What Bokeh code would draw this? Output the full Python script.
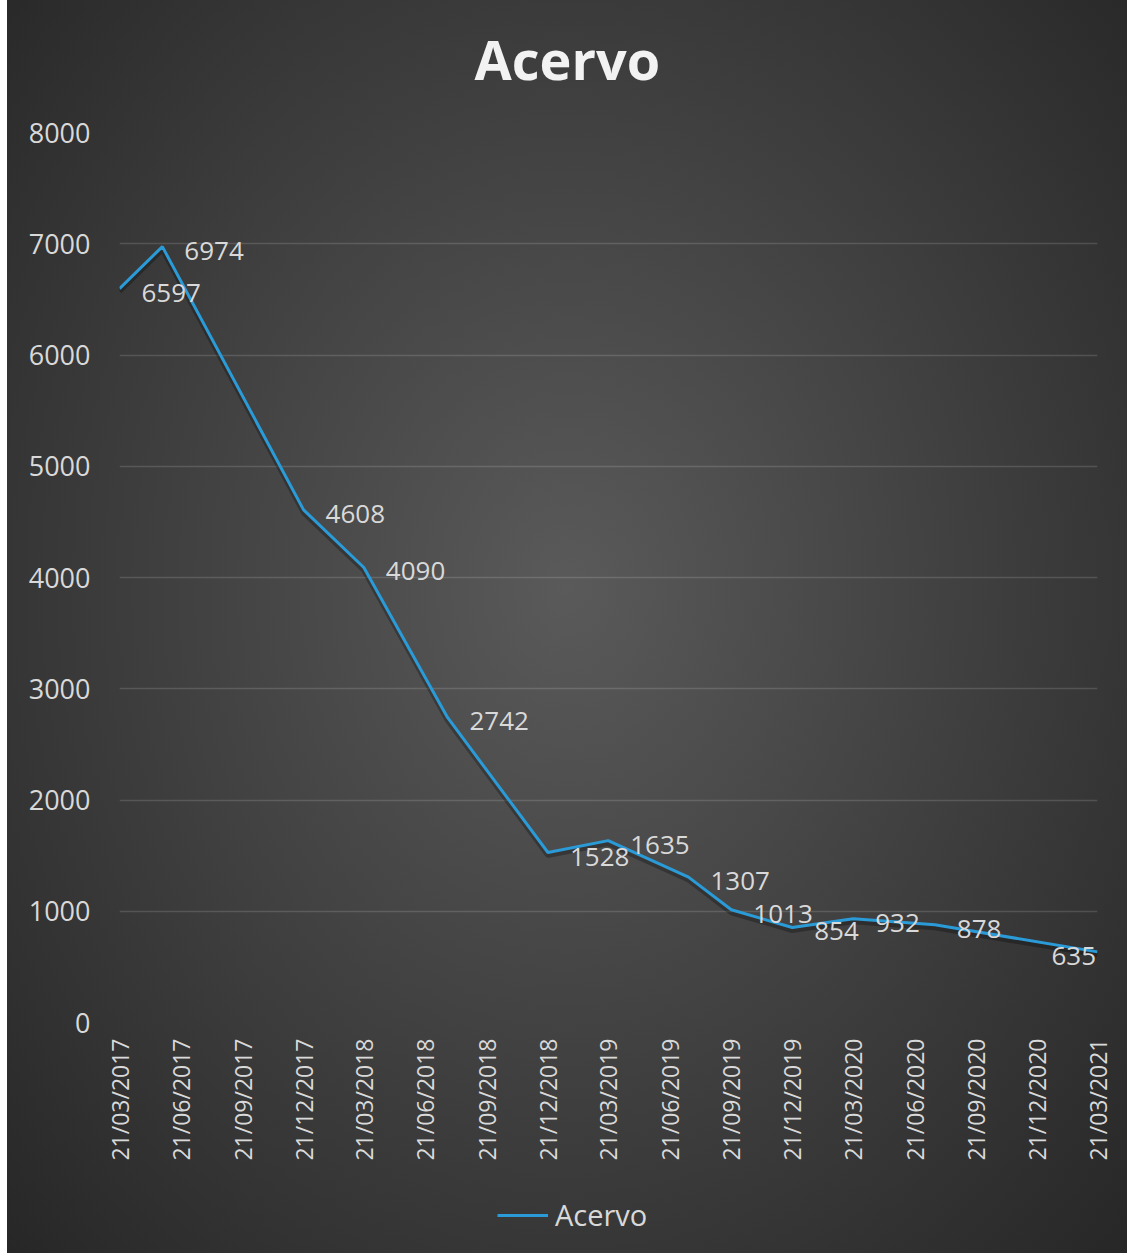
import math
import pandas as pd
from bokeh.plotting import figure
from bokeh.layouts import column
from bokeh.models import (ColumnDataSource, LabelSet, FixedTicker, DatetimeTickFormatter,
                          Legend, LegendItem, Range1d)
from bokeh.core.properties import value
from bokeh.embed import file_html
from bokeh.resources import INLINE

# ---- data ----
dates = ["2017-03-21", "2017-05-24", "2017-12-21", "2018-03-21", "2018-07-24",
         "2018-12-21", "2019-03-21", "2019-07-19", "2019-09-21", "2019-12-21",
         "2020-03-21", "2020-07-21", "2021-03-21"]
acervo = [6597, 6974, 4608, 4090, 2742, 1528, 1635, 1307, 1013, 854, 932, 878, 635]

tick_dates = ["2017-03-21", "2017-06-21", "2017-09-21", "2017-12-21",
              "2018-03-21", "2018-06-21", "2018-09-21", "2018-12-21",
              "2019-03-21", "2019-06-21", "2019-09-21", "2019-12-21",
              "2020-03-21", "2020-06-21", "2020-09-21", "2020-12-21",
              "2021-03-21"]
y_ticks = [0, 1000, 2000, 3000, 4000, 5000, 6000, 7000, 8000]
title_text = "Acervo"
series_name = "Acervo"

TEXT = "#d9d9d9"
LINE = "#2b9bd8"
FONT = "Open Sans"
Y_MAX = 8000
FRAME_H = 890

x = pd.to_datetime(dates)
n = len(acervo)
x_off = [22] * n
x_off[-1] = -46          # last label kept inside the plotting area
src = ColumnDataSource(dict(x=x, y=acervo, lab=[str(v) for v in acervo], xo=x_off))

x_rng = Range1d(pd.Timestamp(tick_dates[0]), pd.Timestamp(tick_dates[-1]))
p = figure(frame_width=978, frame_height=FRAME_H, x_axis_type="datetime",
           x_range=x_rng, y_range=Range1d(0, Y_MAX),
           output_backend="svg", toolbar_location=None,
           min_border_left=112, min_border_right=30, min_border_top=150, min_border_bottom=150)
p.border_fill_color = None
p.background_fill_color = None
p.outline_line_color = None

# title
p.title.text = title_text
p.title.align = "left"
p.title.offset = 355
p.title.text_font = FONT
p.title.text_font_size = "54px"
p.title.text_font_style = "bold"
p.title.text_color = "#f2f2f2"
p.title.standoff = 74

# soft drop shadow: same series on a range shifted by ~3 px
shift = 3 * Y_MAX / FRAME_H
p.extra_y_ranges = {"shadow": Range1d(shift, Y_MAX + shift)}
p.line("x", "y", source=src, y_range_name="shadow", line_color="black", line_width=5, line_alpha=0.28)
line = p.line("x", "y", source=src, line_color=LINE, line_width=3)

labels = LabelSet(x="x", y="y", text="lab", source=src, x_offset="xo", y_offset=-4,
                  text_align="left", text_baseline="middle",
                  text_font=value(FONT), text_font_size="26px", text_color=TEXT)
p.add_layout(labels)

# axes
p.yaxis.ticker = FixedTicker(ticks=y_ticks)
p.xaxis.ticker = FixedTicker(ticks=[pd.Timestamp(d).value / 1e6 for d in tick_dates])
fmt = "%d/%m/%Y"
p.xaxis.formatter = DatetimeTickFormatter(milliseconds=fmt, seconds=fmt, minsec=fmt, minutes=fmt,
                                          hourmin=fmt, hours=fmt, days=fmt, months=fmt, years=fmt)
p.xaxis.major_label_orientation = math.pi / 2
for ax in (p.xaxis, p.yaxis):
    ax.axis_line_color = None
    ax.major_tick_line_color = None
    ax.minor_tick_line_color = None
    ax.major_tick_out = 0
    ax.major_tick_in = 0
    ax.major_label_text_color = TEXT
    ax.major_label_text_font = FONT
p.yaxis.major_label_text_font_size = "27px"
p.yaxis.major_label_standoff = 29
p.xaxis.major_label_text_font_size = "23px"
p.xaxis.major_label_standoff = 16

p.xgrid.grid_line_color = None
p.ygrid.grid_line_color = "white"
p.ygrid.grid_line_alpha = 0.14
p.ygrid.grid_line_width = 1.5

# legend strip under the chart (own figure, so the legend is not clipped);
# its line renderer uses the same data but lies outside this strip's y range
pl = figure(width=1120, height=100, output_backend="svg", toolbar_location=None,
            x_range=x_rng, y_range=Range1d(-2, -1),
            x_axis_location=None, y_axis_location=None, min_border=0)
pl.border_fill_color = None
pl.background_fill_color = None
pl.outline_line_color = None
pl.grid.grid_line_color = None
leg_line = pl.line("x", "y", source=src, line_color=LINE, line_width=3)
legend = Legend(items=[LegendItem(label=series_name, renderers=[leg_line])],
                orientation="horizontal", location=(378, 38),
                background_fill_alpha=0, border_line_color=None,
                label_text_color=TEXT, label_text_font=FONT, label_text_font_size="29px",
                glyph_width=51, glyph_height=20, label_standoff=7, padding=0, margin=0)
pl.add_layout(legend, "center")

layout = column(p, pl, spacing=0)
layout.styles = {"background": "radial-gradient(ellipse farthest-corner at 50% 47%, #5a5a5a 0%, #262626 100%)",
                 "margin-left": "7px", "margin-top": "-18px"}

open("out.html", "w").write(file_html(layout, INLINE))
